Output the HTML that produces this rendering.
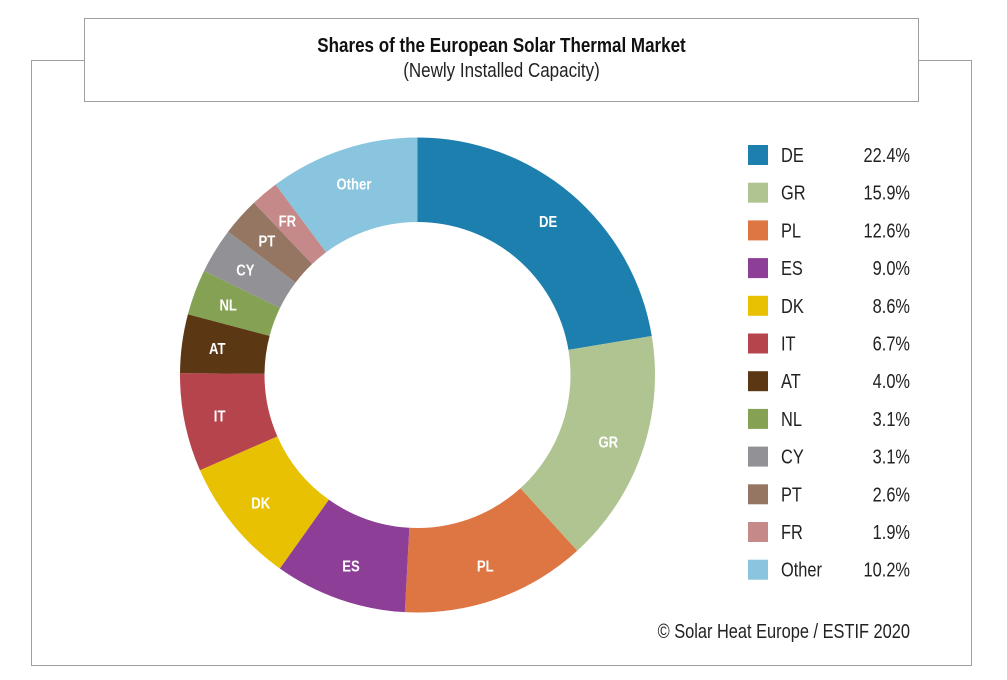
<!DOCTYPE html>
<html><head><style>
body{margin:0;background:#fff;width:1007px;height:680px;position:relative;font-family:"Liberation Sans",sans-serif;overflow:hidden}
.box{position:absolute;border:1px solid #a0a0a0;background:#fff}
</style></head><body>
<div class="box" style="left:31px;top:60px;width:939px;height:604px"></div>
<div class="box" style="left:84px;top:18px;width:833px;height:82px;text-align:center">
<div style="font-weight:bold;font-size:20px;margin-top:16px;color:#111;transform:scaleX(0.85)">Shares of the European Solar Thermal Market</div>
<div style="font-size:20px;margin-top:2px;color:#222;transform:scaleX(0.85)">(Newly Installed Capacity)</div>
</div>
<svg id="s" width="1007" height="680" style="position:absolute;left:0;top:0"></svg>
<script>
var d=[["DE",22.4,"#1d7fae"],["GR",15.9,"#b0c491"],["PL",12.6,"#de7643"],["ES",9.0,"#8d3f97"],["DK",8.6,"#e7c102"],["IT",6.7,"#b6444d"],["AT",4.0,"#5b3714"],["NL",3.1,"#84a154"],["CY",3.1,"#929296"],["PT",2.6,"#947663"],["FR",1.9,"#c5898a"],["Other",10.2,"#89c5de"]];
var tot=0;d.forEach(function(x){tot+=x[1]});
var cx=417.5,cy=375,R=237.5,r=153,a=0,h="";
function p(rad,ang){return [cx+rad*Math.sin(ang),cy-rad*Math.cos(ang)]}
function t(x,y,s,size,anchor,fill,bold){return '<g transform="translate('+x+','+y+') scale(0.82,1)"><text x="0" y="0" font-size="'+size+'" fill="'+fill+'" text-anchor="'+anchor+'"'+(bold?' font-weight="bold"':'')+' font-family="Liberation Sans,sans-serif">'+s+'</text></g>';}
d.forEach(function(x,i){
var a1=a+x[1]/tot*2*Math.PI,l=(a1-a>Math.PI)?1:0;
var A=p(R,a),B=p(R,a1),C=p(r,a1),D=p(r,a);
h+='<path fill="'+x[2]+'" d="M'+A+' A'+R+','+R+' 0 '+l+' 1 '+B+' L'+C+' A'+r+','+r+' 0 '+l+' 0 '+D+'Z"/>';
var m=p(202,(a+a1)/2);
h+=t(m[0],m[1]+6,x[0],16,"middle","#fff",true);
var y=155+i*37.7;
h+='<rect x="748" y="'+(y-10)+'" width="20" height="20" fill="'+x[2]+'"/>';
h+=t(781,y+7,x[0],20,"start","#222");
h+=t(910,y+7,x[1].toFixed(1)+'%',20,"end","#222");
a=a1;});
h+=t(910,638,'© Solar Heat Europe / ESTIF 2020',20,"end","#222");
document.getElementById("s").innerHTML=h;
</script>
</body></html>
